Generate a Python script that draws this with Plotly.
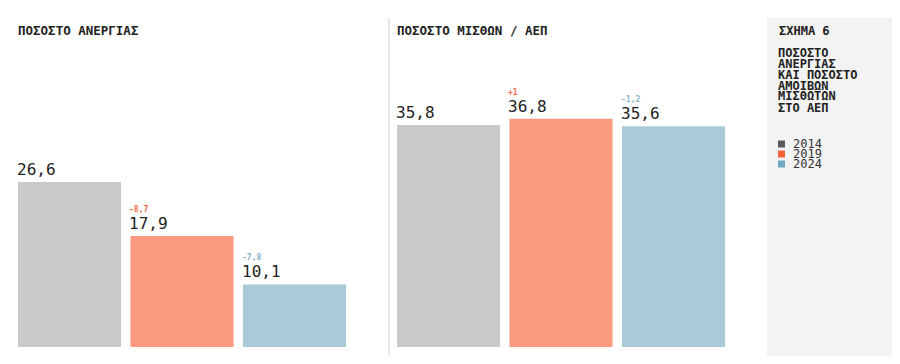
import plotly.graph_objects as go

# browser body has an 8px margin, so the figure starts at (8, 8)
OFF = 8
W, H = 900 - OFF, 364 - OFF

# ---- data ----
years = ["2014", "2019", "2024"]
unemployment = [26.6, 17.9, 10.1]
unemployment_labels = ["26,6", "17,9", "10,1"]
unemployment_deltas = ["", "-8,7", "-7,8"]
wages_gdp = [35.8, 36.8, 35.6]
wages_labels = ["35,8", "36,8", "35,6"]
wages_deltas = ["", "+1", "-1,2"]
panel_titles = ["ΠΟΣΟΣΤΟ ΑΝΕΡΓΙΑΣ", "ΠΟΣΟΣΤΟ ΜΙΣΘΩΝ / ΑΕΠ"]
fig_label = "ΣΧΗΜΑ 6"
fig_desc = ["ΠΟΣΟΣΤΟ", "ΑΝΕΡΓΙΑΣ", "ΚΑΙ ΠΟΣΟΣΤΟ", "ΑΜΟΙΒΩΝ", "ΜΙΣΘΩΤΩΝ", "ΣΤΟ ΑΕΠ"]

# ---- style ----
bar_colors = ["#c9c9c9", "#fb9a80", "#a9cad6"]
delta_colors = ["#888888", "#f26a4a", "#86b4c8"]
legend_colors = ["#5a5a5a", "#f4623a", "#6fa8c0"]
MONO = "DejaVu Sans Mono"
BARGAP = 0.084
HALF = (1 - BARGAP) / 2


def px_x(p):
    return (p - OFF) / W


def px_y(p):
    return 1 - (p - OFF) / H


fig = go.Figure()

xs = list(range(len(years)))
panels = [
    (unemployment, unemployment_labels, unemployment_deltas, "x", "y"),
    (wages_gdp, wages_labels, wages_deltas, "x2", "y2"),
]

annotations = []
for vals, labels, deltas, xa, ya in panels:
    fig.add_trace(go.Bar(
        x=xs, y=vals, xaxis=xa, yaxis=ya, showlegend=False,
        marker=dict(color=bar_colors, line=dict(width=0)),
        hoverinfo="skip",
    ))
    for i, (v, lab, d) in enumerate(zip(vals, labels, deltas)):
        annotations.append(dict(
            x=i - HALF, y=v, xref=xa, yref=ya, text=lab, showarrow=False,
            xanchor="left", yanchor="bottom", xshift=-2, yshift=2, borderpad=0,
            font=dict(family=MONO, size=16, color="#222222"),
        ))
        if d:
            annotations.append(dict(
                x=i - HALF, y=v, xref=xa, yref=ya, text=d, showarrow=False,
                xanchor="left", yanchor="bottom", xshift=-2, yshift=21, borderpad=0,
                font=dict(family=MONO, size=8, color=delta_colors[i], weight=700),
            ))

# panel titles
for t, xp in zip(panel_titles, [18, 397]):
    annotations.append(dict(
        x=px_x(xp), y=px_y(30.5), xref="paper", yref="paper", text=t,
        showarrow=False, xanchor="left", yanchor="middle", xshift=-2,
        font=dict(family=MONO, size=12.5, color="#222222", weight=700),
    ))

# sidebar texts
annotations.append(dict(
    x=px_x(779), y=px_y(31), xref="paper", yref="paper", text=fig_label,
    showarrow=False, xanchor="left", yanchor="middle", xshift=-2,
    font=dict(family=MONO, size=12, color="#222222", weight=700),
))
for k, line in enumerate(fig_desc):
    annotations.append(dict(
        x=px_x(779), y=px_y(52.5 + 11 * k), xref="paper", yref="paper", text=line,
        showarrow=False, xanchor="left", yanchor="middle", xshift=-2, borderpad=0,
        font=dict(family=MONO, size=12, color="#222222", weight=700),
    ))

shapes = [
    # sidebar background
    dict(type="rect", xref="paper", yref="paper", x0=px_x(767), x1=1.0,
         y0=px_y(356), y1=px_y(18), fillcolor="#f3f3f3", line=dict(width=0),
         layer="below"),
    # divider
    dict(type="line", xref="paper", yref="paper", x0=px_x(389), x1=px_x(389),
         y0=px_y(355), y1=px_y(18), line=dict(color="#e8e8e8", width=2)),
]

# legend
for k, (yr, c) in enumerate(zip(years, legend_colors)):
    yc = 144 + 10 * k
    shapes.append(dict(type="rect", xref="paper", yref="paper",
                       x0=px_x(778), x1=px_x(785), y0=px_y(yc + 3.5), y1=px_y(yc - 3.5),
                       fillcolor=c, line=dict(width=0)))
    annotations.append(dict(
        x=px_x(794), y=px_y(yc), xref="paper", yref="paper", text=yr,
        showarrow=False, xanchor="left", yanchor="middle", xshift=-2, borderpad=0,
        font=dict(family=MONO, size=12, color="#333333"),
    ))

ydom = [1 - (347 - OFF) / H, 1 - (18 - OFF) / H]
yrange = [0, (347 - 18) / 6.2]
axis_common = dict(showgrid=False, zeroline=False, showticklabels=False,
                   showline=False, ticks="", fixedrange=True)

fig.update_layout(
    width=W, height=H, margin=dict(l=0, r=0, t=0, b=0),
    paper_bgcolor="white", plot_bgcolor="rgba(0,0,0,0)",
    bargap=BARGAP, showlegend=False,
    xaxis=dict(domain=[px_x(13.25), px_x(350.75)], range=[-0.5, 2.5], anchor="y", **axis_common),
    yaxis=dict(domain=ydom, range=yrange, anchor="x", **axis_common),
    xaxis2=dict(domain=[px_x(392.25), px_x(729.75)], range=[-0.5, 2.5], anchor="y2", **axis_common),
    yaxis2=dict(domain=ydom, range=yrange, anchor="x2", **axis_common),
    annotations=annotations, shapes=shapes,
)

fig.write_html("out.html")
